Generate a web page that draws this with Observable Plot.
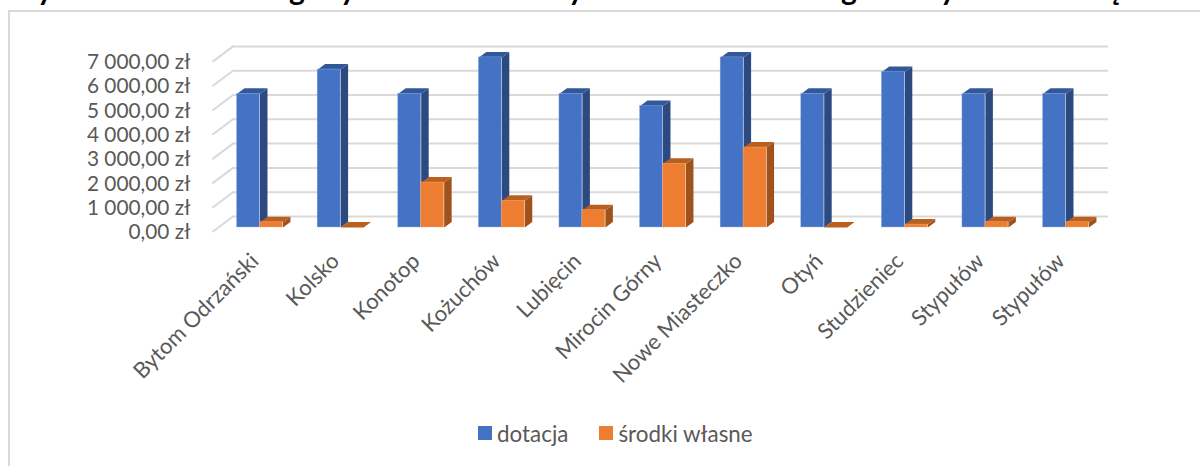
<!DOCTYPE html>
<html lang="pl">
<head>
<meta charset="utf-8">
<script src="https://cdn.jsdelivr.net/npm/d3@7"></script>
<script src="https://cdn.jsdelivr.net/npm/@observablehq/plot@0.6"></script>
<style>
  html, body { margin: 0; padding: 0; background: #fff; overflow: hidden; }
  #page { position: relative; width: 1200px; height: 466px; overflow: hidden; font-family: Lato, sans-serif; }
  #frame { position: absolute; left: 8px; top: 10px; width: 1192px; height: 456px; box-sizing: border-box; border-left: 2px solid #d9d9d9; border-top: 2px solid #d9d9d9; }
  #title span { position: absolute; top: -30px; font: 700 30px/36px Lato, sans-serif; color: #000; }
  #chart { position: absolute; left: 0; top: 0; }
  #legend { position: absolute; left: 478px; top: 418px; display: flex; align-items: center; height: 30px; font-size: 22.4px; color: #595959; }
  #legend i { display: inline-block; width: 14px; height: 14px; margin-right: 5px; }
  #legend span { display: flex; align-items: center; margin-right: 31px; }
</style>
</head>
<body>
<div id="page">
  <div id="frame"></div>
  <div id="title"></div>
  <div id="chart"></div>
  <div id="legend"></div>
</div>
<script>
const categories = ["Bytom Odrzański", "Kolsko", "Konotop", "Kożuchów", "Lubięcin", "Mirocin Górny", "Nowe Miasteczko", "Otyń", "Studzieniec", "Stypułów", "Stypułów"];
const dotacja = [5500, 6500, 5500, 7000, 5500, 5000, 7000, 5500, 6400, 5500, 5500];
const srodkiWlasne = [220, 0, 1850, 1100, 710, 2620, 3290, 0, 120, 220, 220];
const yTicks = [0, 1000, 2000, 3000, 4000, 5000, 6000, 7000];
const seriesNames = ["dotacja", "środki własne"];
// The title is cut off by the top of the picture: only these descenders can be read.
const titleLetters = ["y", "g", "y", "y", "g", "y", "ę"];
const titleLeft = [37, 289, 340, 568, 841, 940, 1107];

const colors = {
  dotacja: { front: "#4472C4", side: "#2C4A80", top: "#335899", edge: "#9db4e2" },
  wlasne: { front: "#ED7D31", side: "#A0521D", top: "#B9601F", edge: "#f5b283" }
};

// Oblique projection, in units of the scales: one category across, one złoty up.
const barWidth = 0.285, depthX = 0.093, depthY = 226;
const backX = 0.165, backY = 453, edgeX = -0.083, edgeY = -165;

function barsOf(values, first, key) {
  return values.map((v, i) => ({ i, v, x1: i + first, x2: i + first + barWidth, key }));
}
const blue = barsOf(dotacja, 0.5 - barWidth, "dotacja");
const orange = barsOf(srodkiWlasne, 0.5, "wlasne");

function sideFace(b) {
  return [[b.x2, 0], [b.x2, b.v], [b.x2 + depthX, b.v + depthY], [b.x2 + depthX, depthY]]
    .map(([x, y]) => ({ x, y, id: b.i }));
}
function topFace(b) {
  return [[b.x1, b.v], [b.x2, b.v], [b.x2 + depthX, b.v + depthY], [b.x1 + depthX, b.v + depthY]]
    .map(([x, y]) => ({ x, y, id: b.i }));
}
function barMarks(bars, c) {
  return [
    Plot.line(bars.flatMap(sideFace), { x: "x", y: "y", z: "id", fill: c.side, stroke: "none", curve: "linear-closed" }),
    Plot.line(bars.flatMap(topFace), { x: "x", y: "y", z: "id", fill: c.top, stroke: "none", curve: "linear-closed" }),
    Plot.rect(bars, { x1: "x1", x2: "x2", y1: 0, y2: "v", fill: c.front, stroke: c.edge, strokeWidth: 0.4 })
  ];
}

const gridBack = yTicks.map(v => ({ v, x1: backX, x2: 11 + backX - 0.137 }));
const gridDiag = yTicks.flatMap(v => [
  { x: edgeX, y: v + edgeY, id: v },
  { x: backX, y: v + backY, id: v }
]);

const money = d3.formatLocale({ decimal: ",", thousands: " ", grouping: [3], currency: ["", " zł"] }).format("$,.2f");

const chart = Plot.plot({
  width: 1200,
  height: 410,
  marginTop: 0, marginRight: 0, marginLeft: 193, marginBottom: 156,
  style: { fontFamily: "Lato, sans-serif", background: "transparent", overflow: "visible" },
  x: { type: "linear", domain: [0, 11], range: [219.2, 1105.8] },
  y: { type: "linear", domain: [0, 7000], range: [227, 56.9] },
  marks: [
    Plot.ruleY(gridBack, { y: d => d.v + backY, x1: "x1", x2: "x2", stroke: "#d9d9d9", strokeWidth: 2 }),
    Plot.line(gridDiag, { x: "x", y: "y", z: "id", stroke: "#d9d9d9", strokeWidth: 2 }),
    ...barMarks(blue, colors.dotacja),
    ...barMarks(orange, colors.wlasne),
    Plot.axisY({
      ticks: yTicks, tickFormat: money, tickSize: 0, tickPadding: 3, dy: 5,
      fontSize: 20.8, fontVariant: "normal", color: "#595959", label: null, anchor: "left"
    }),
    Plot.axisX({
      ticks: categories.map((_, i) => i + 0.5), tickFormat: t => categories[Math.floor(t)],
      tickSize: 0, tickPadding: 0, tickRotate: -45, fontSize: 22, color: "#595959",
      label: null, anchor: "bottom", dx: -5, dy: 3
    })
  ]
});
document.getElementById("chart").append(chart);

const title = document.getElementById("title");
titleLetters.forEach((ch, i) => {
  const s = document.createElement("span");
  s.textContent = ch;
  s.style.left = titleLeft[i] + "px";
  title.append(s);
});

const legend = document.getElementById("legend");
[[seriesNames[0], colors.dotacja.front], [seriesNames[1], colors.wlasne.front]].forEach(([name, color]) => {
  const s = document.createElement("span");
  const sw = document.createElement("i");
  sw.style.background = color;
  s.append(sw, document.createTextNode(name));
  legend.append(s);
});
</script>
</body>
</html>
